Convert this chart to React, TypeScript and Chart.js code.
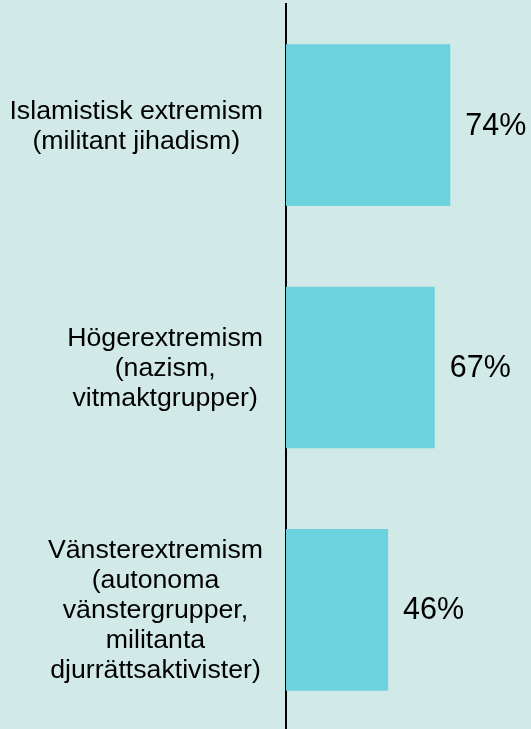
import React, { useEffect, useRef } from "react";
import { Chart, registerables } from "chart.js";

Chart.register(...registerables);

const categories: string[][] = [
  ["Islamistisk extremism", "(militant jihadism)"],
  ["Högerextremism", "(nazism,", "vitmaktgrupper)"],
  ["Vänsterextremism", "(autonoma", "vänstergrupper,", "militanta", "djurrättsaktivister)"],
];
const values: number[] = [74, 67, 46];
const valueSuffix = "%";

const BG = "#d2eae7";
const BAR = "#6bd2de";
const FONT = "'Liberation Sans', Arial, sans-serif";

const labelsPlugin = {
  id: "customLabels",
  afterDraw(chart: any) {
    const ctx = chart.ctx;
    const yScale = chart.scales.y;
    const area = chart.chartArea;
    ctx.save();
    ctx.fillStyle = "#000";
    // category labels: each block centred on its own width, right-aligned to axis
    ctx.font = `26.7px ${FONT}`;
    ctx.textBaseline = "middle";
    ctx.textAlign = "center";
    const lh = 30;
    const rightEdge = area.left - 23;
    categories.forEach((lines, i) => {
      const yc = yScale.getPixelForValue(i);
      const maxW = Math.max(...lines.map((l) => ctx.measureText(l).width));
      const cx = rightEdge - maxW / 2;
      const y0 = yc - ((lines.length - 1) * lh) / 2;
      lines.forEach((l, k) => ctx.fillText(l, cx, y0 + k * lh + 1));
    });
    // value labels
    ctx.font = `30.5px ${FONT}`;
    ctx.textAlign = "left";
    const meta = chart.getDatasetMeta(0);
    meta.data.forEach((bar: any, i: number) => {
      ctx.fillText(values[i] + valueSuffix, bar.x + 15, bar.y + 1);
    });
    ctx.restore();
  },
};

export default function App() {
  const ref = useRef<HTMLCanvasElement | null>(null);
  useEffect(() => {
    document.body.style.margin = "0";
    document.body.style.background = BG;
    document.body.style.overflow = "hidden";
    const chart = new Chart(ref.current as HTMLCanvasElement, {
      type: "bar",
      data: {
        labels: categories.map((c) => c.join(" ")),
        datasets: [
          {
            data: values,
            backgroundColor: BAR,
            borderWidth: 0,
            categoryPercentage: 1,
            barPercentage: 0.667,
          },
        ],
      },
      options: {
        indexAxis: "y",
        animation: false,
        responsive: false,
        maintainAspectRatio: false,
        layout: { padding: { left: 286, right: 23, top: 4, bottom: 0 } },
        plugins: { legend: { display: false }, tooltip: { enabled: false } },
        scales: {
          x: { display: false, min: 0, max: 100 },
          y: {
            grid: { display: false, drawTicks: false },
            ticks: { display: false },
            border: { display: true, color: "#000", width: 2 },
          },
        },
      },
      plugins: [labelsPlugin],
    });
    return () => chart.destroy();
  }, []);
  return (
    <div style={{ width: 531, height: 731, background: BG }}>
      <canvas ref={ref} width={531} height={731} style={{ display: "block" }} />
    </div>
  );
}
